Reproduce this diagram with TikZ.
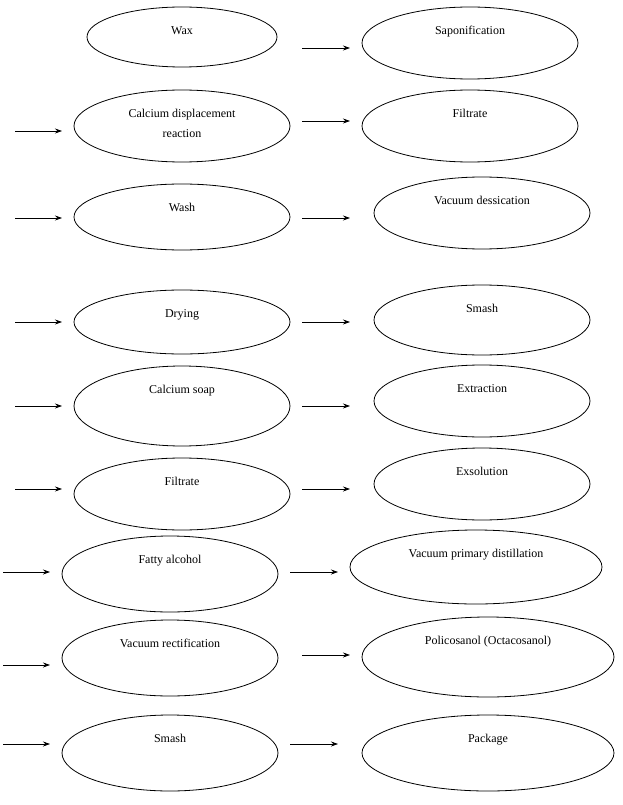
\documentclass[tikz,border=0pt]{standalone}
\usepackage{fontspec}
\setmainfont{Liberation Serif}
\usetikzlibrary{shapes.geometric,arrows.meta}
\begin{document}
\begin{tikzpicture}[x=1pt,y=-1pt,
  ell/.style={draw,ellipse,line width=0.8pt,inner sep=0pt},
  txt/.style={font=\fontsize{12}{14}\selectfont,align=center,anchor=north,inner sep=0pt},
  arr/.style={-{Stealth[length=7pt,width=5pt]},line width=0.7pt}]
\useasboundingbox (0,0) rectangle (623,805);
\foreach \n/\x/\y/\rx/\ry/\t in {
 L1/182/37/95/30/{Wax},
 L2/182/126/108/36/{Calcium displacement\\[6pt]reaction},
 L3/182/217/108/33/{Wash},
 L4/182/322/108/32/{Drying},
 L5/182/406/108/40/{Calcium soap},
 L6/182/494/108/36/{Filtrate},
 L7/170/574/108/38/{Fatty alcohol},
 L8/170/658/108/38/{Vacuum rectification},
 L9/170/753/108/38/{Smash},
 R1/470/43/108/36/{Saponification},
 R2/470/126/108/36/{Filtrate},
 R3/482/213/108/36/{Vacuum dessication},
 R4/482/320/108/35/{Smash},
 R5/482/401/108/36/{Extraction},
 R6/482/484/108/36/{Exsolution},
 R7/476/567/126/37/{Vacuum primary distillation},
 R8/488/657/126/40/{Policosanol (Octacosanol)},
 R9/488/753/126/38/{Package}}{
  \node[ell,minimum width=2*\rx,minimum height=2*\ry] (\n) at (\x,\y) {};
  \node[txt] (\n t) at (\x,\y-\ry+19) {\t};
}
\foreach \i/\a/\b/\y in {m1/302/350/48, m2/302/350/121, m3/302/350/218, m4/302/350/322,
  m5/302/350/406, m6/302/350/489, m7/290/338/572, m8/302/350/655, m9/290/338/744,
  l2/15/62/131, l3/15/62/218, l4/15/62/322, l5/15/62/406, l6/15/62/489,
  l7/3/50/572, l8/3/50/665, l9/3/50/744}{
  \coordinate (\i a) at (\a,\y);
  \coordinate (\i b) at (\b,\y);
  \draw[arr] (\i a) -- (\i b);
}
\end{tikzpicture}
\end{document}
